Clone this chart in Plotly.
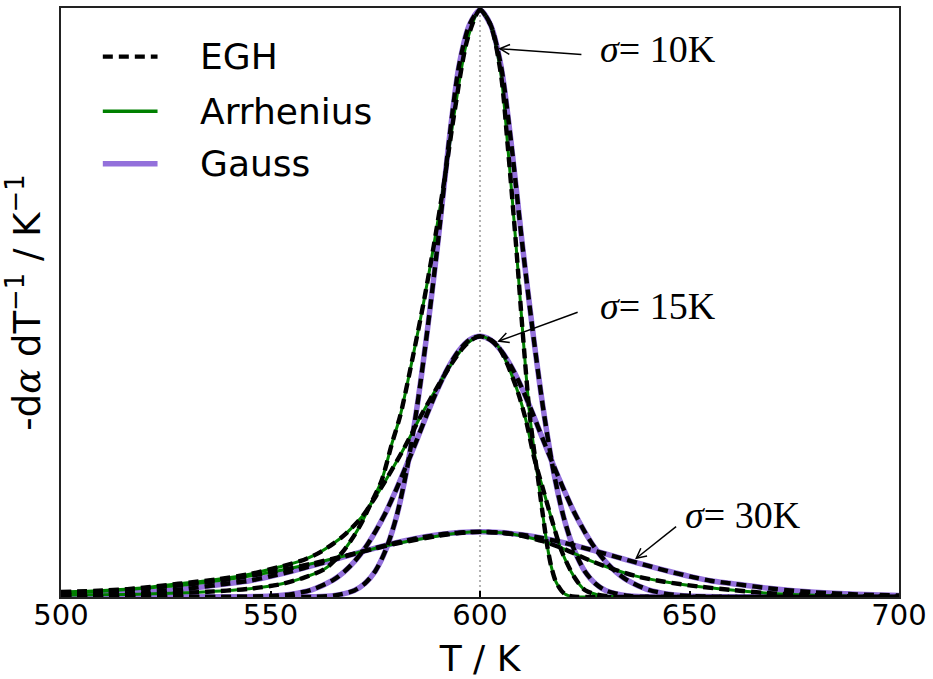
import math
import plotly.graph_objects as go

# ---------------------------------------------------------------- data
# Temperature grids (K) and normalised rate values for each model curve.
T_gauss10 = [500, 550, 560, 565, 570, 572.5, 575, 577.5, 580, 582.5, 585, 587.5, 590,
             592.5, 595, 597.5, 600, 602.5, 605, 607.5, 610, 612.5, 615, 617.5, 620,
             622.5, 625, 627.5, 630, 635, 640, 650, 700]
y_gauss10 = [0, 0, 0.0003, 0.0022, 0.011, 0.023, 0.044, 0.080, 0.135, 0.216, 0.325, 0.458,
             0.607, 0.770, 0.905, 0.975, 1.0, 0.975, 0.905, 0.770, 0.607, 0.458, 0.325,
             0.216, 0.135, 0.080, 0.044, 0.023, 0.011, 0.0022, 0.0003, 0, 0]

T_gauss15 = [500, 540, 550, 555, 560, 565, 567.5, 570, 572.5, 575, 577.5, 580, 582.5, 585,
             587.5, 590, 592.5, 595, 597.5, 600, 602.5, 605, 607.5, 610, 612.5, 615, 617.5,
             620, 622.5, 625, 627.5, 630, 632.5, 635, 640, 645, 650, 660, 700]
y_gauss15 = [0, 0.0002, 0.0017, 0.0049, 0.0127, 0.0292, 0.0425, 0.0601, 0.0827, 0.111,
             0.144, 0.183, 0.225, 0.269, 0.314, 0.356, 0.392, 0.420, 0.438, 0.444, 0.438,
             0.420, 0.392, 0.356, 0.314, 0.269, 0.225, 0.183, 0.144, 0.111, 0.0827, 0.0601,
             0.0425, 0.0292, 0.0127, 0.0049, 0.0017, 0.0002, 0]

T_gauss30 = [500, 510, 520, 530, 540, 545, 550, 555, 560, 565, 570, 575, 580, 585, 590, 595,
             600, 605, 610, 615, 620, 625, 630, 635, 640, 645, 650, 655, 660, 670, 680, 690, 700]
y_gauss30 = [0.0025, 0.0045, 0.008, 0.014, 0.023, 0.0277, 0.0352, 0.0438, 0.0533, 0.0633,
             0.0735, 0.0833, 0.0924, 0.1001, 0.106, 0.1097, 0.111, 0.1097, 0.106, 0.1001,
             0.0924, 0.0833, 0.0735, 0.0633, 0.0533, 0.0438, 0.0352, 0.0277, 0.023, 0.014,
             0.008, 0.0045, 0.0025]

T_arr10 = [500, 520, 535, 545, 552.5, 558, 563, 567, 570, 572, 574, 576.5, 579, 581, 584,
           586.5, 589, 591.5, 594, 597, 600, 602.5, 605, 606.6, 608.6, 610.2, 611.8, 613,
           613.7, 614.9, 616.1, 617, 618.1, 619.5, 620.5, 622, 625, 700]
y_arr10 = [0.003, 0.005, 0.009, 0.014, 0.022, 0.033, 0.048, 0.075, 0.105, 0.13, 0.16, 0.198,
           0.262, 0.31, 0.41, 0.50, 0.60, 0.71, 0.83, 0.95, 1.0, 0.975, 0.89, 0.77, 0.60,
           0.45, 0.315, 0.245, 0.21, 0.145, 0.085, 0.052, 0.026, 0.01, 0.004, 0.001, 0, 0]

T_arr15 = [500, 510, 517, 528, 537, 545, 552, 557, 561, 565, 568, 572, 575, 578, 582, 586,
           590, 593, 596, 598, 600, 602, 604, 606, 609, 611, 613, 615, 617, 619.5, 622.5,
           625, 628, 632, 640, 700]
y_arr15 = [0.0084, 0.011, 0.014, 0.0225, 0.030, 0.039, 0.051, 0.061, 0.073, 0.091, 0.108,
           0.138, 0.170, 0.205, 0.255, 0.310, 0.360, 0.395, 0.425, 0.438, 0.444, 0.440,
           0.430, 0.405, 0.350, 0.300, 0.235, 0.185, 0.135, 0.078, 0.034, 0.012, 0.004,
           0.0005, 0, 0]

T_arr30 = [500, 510, 520, 530, 540, 550, 560, 570, 580, 590, 595, 600, 605, 610, 615, 620,
           625, 630, 637, 644, 652, 660, 668, 680, 690, 700]
y_arr30 = [0.007, 0.010, 0.015, 0.021, 0.030, 0.042, 0.057, 0.074, 0.091, 0.104, 0.109,
           0.111, 0.1095, 0.104, 0.095, 0.082, 0.066, 0.052, 0.036, 0.026, 0.018, 0.012,
           0.007, 0.003, 0.0012, 0.0005]

x_ticks = [500, 550, 600, 650, 700]
sigma_labels = ["10K", "15K", "30K"]
legend_names = ["EGH", "Arrhenius", "Gauss"]

# ---------------------------------------------------------------- style
W, H = 933, 679
ML, MR, MT, MB = 61, 30, 6, 79
X_RANGE = [500, 700]
Y_RANGE = [0, 1.0034]

PURPLE = "#9370DB"
GREEN = "#008000"
BLACK = "#000000"
SANS = "DejaVu Sans"
SERIF = "Liberation Serif"
EGH_DASH = "10px,6px"
EGH_WIDTH = 4.4

fig = go.Figure()


def add_curve(T, y, color, width, dash=None):
    fig.add_trace(go.Scatter(
        x=T, y=y, mode="lines",
        line=dict(color=color, width=width, dash=dash, shape="spline", smoothing=0.8),
        hoverinfo="skip", showlegend=False, cliponaxis=True))


gauss = [(T_gauss10, y_gauss10), (T_gauss15, y_gauss15), (T_gauss30, y_gauss30)]
arrhenius = [(T_arr10, y_arr10), (T_arr15, y_arr15), (T_arr30, y_arr30)]

for T, y in gauss:
    add_curve(T, y, PURPLE, 5.5)
for T, y in arrhenius:
    add_curve(T, y, GREEN, 3)
# EGH fits follow both families
for T, y in arrhenius + gauss:
    add_curve(T, y, BLACK, EGH_WIDTH, EGH_DASH)

# dotted marker at the peak temperature
fig.add_shape(type="line", xref="x", yref="paper", x0=600, x1=600, y0=0, y1=1,
              line=dict(color="#9a9a9a", width=1.5, dash="2px,3px"), layer="below")

# ---------------------------------------------------------------- arrows
px_per_x = (W - ML - MR) / (X_RANGE[1] - X_RANGE[0])
px_per_y = (H - MT - MB) / (Y_RANGE[1] - Y_RANGE[0])


def add_arrow(tail, tip, head=11, spread=27):
    dx = (tail[0] - tip[0]) * px_per_x
    dy = (tail[1] - tip[1]) * px_per_y
    L = math.hypot(dx, dy)
    ux, uy = dx / L, dy / L
    pts = []
    for s in (1, -1):
        a = math.radians(spread * s)
        rx = ux * math.cos(a) - uy * math.sin(a)
        ry = ux * math.sin(a) + uy * math.cos(a)
        pts.append((rx * head, ry * head))
    fig.add_shape(type="line", xref="x", yref="y", x0=tail[0], y0=tail[1],
                  x1=tip[0], y1=tip[1], line=dict(color=BLACK, width=1.5))
    path = "M{:.2f},{:.2f} L0,0 L{:.2f},{:.2f}".format(pts[0][0], pts[0][1],
                                                    pts[1][0], pts[1][1])
    fig.add_shape(type="path", xref="x", yref="y", xsizemode="pixel",
                  ysizemode="pixel", xanchor=tip[0], yanchor=tip[1], path=path,
                  line=dict(color=BLACK, width=1.5))


label_pos = [(642.6, 0.934), (642.6, 0.495), (662.8, 0.140)]
arrow_tail = [(624.2, 0.924), (623.3, 0.485), (646.8, 0.120)]
arrow_tip = [(604.75, 0.934), (604.5, 0.436), (637.3, 0.066)]

for lab, pos, tail, tip in zip(sigma_labels, label_pos, arrow_tail, arrow_tip):
    add_arrow(tail, tip)
    fig.add_annotation(x=pos[0], y=pos[1], xref="x", yref="y", showarrow=False,
                       text="<i>σ</i>= " + lab, xanchor="center", yanchor="middle",
                       font=dict(family=SERIF, size=38, color=BLACK))

# ---------------------------------------------------------------- legend
leg_x0, leg_x1, leg_text_x = 0.0499, 0.1152, 0.1639
leg_rows = [0.9175, 0.8249, 0.7357]
leg_styles = [(BLACK, EGH_WIDTH, EGH_DASH), (GREEN, 3.5, None), (PURPLE, 5.5, None)]
for name, yr, (col, wid, dsh) in zip(legend_names, leg_rows, leg_styles):
    fig.add_shape(type="line", xref="paper", yref="paper", x0=leg_x0, x1=leg_x1,
                  y0=yr, y1=yr, line=dict(color=col, width=wid, dash=dsh))
    fig.add_annotation(x=leg_text_x, y=yr, xref="paper", yref="paper",
                       showarrow=False, text=name, xanchor="left", yanchor="middle",
                       font=dict(family=SANS, size=36, color=BLACK))

# ---------------------------------------------------------------- axes
fig.update_layout(
    width=W, height=H, autosize=False,
    margin=dict(l=ML, r=MR, t=MT, b=MB, pad=0),
    paper_bgcolor="white", plot_bgcolor="white",
    showlegend=False,
    xaxis=dict(range=X_RANGE, tickvals=x_ticks, ticktext=[str(t) for t in x_ticks],
               ticks="inside", ticklen=6, tickwidth=1.5, tickcolor=BLACK,
               ticklabelstandoff=-9,
               showline=True, linecolor="#222222", linewidth=1.5, mirror=True,
               showgrid=False, zeroline=False,
               tickfont=dict(family=SANS, size=29, color=BLACK),
               title=dict(text="T / K", font=dict(family=SANS, size=36, color=BLACK),
                          standoff=16)),
    yaxis=dict(range=Y_RANGE, showticklabels=False, ticks="",
               showline=True, linecolor="#222222", linewidth=1.5, mirror=True,
               showgrid=False, zeroline=False,
               title=dict(text="-d<span style=\"font-family:'DejaVu Serif'\"><i>α</i></span>"
                               " dT<sup>−1</sup> / K<sup>−1</sup>",
                          font=dict(family=SANS, size=37, color=BLACK), standoff=14)),
)

fig.write_html("out.html")
